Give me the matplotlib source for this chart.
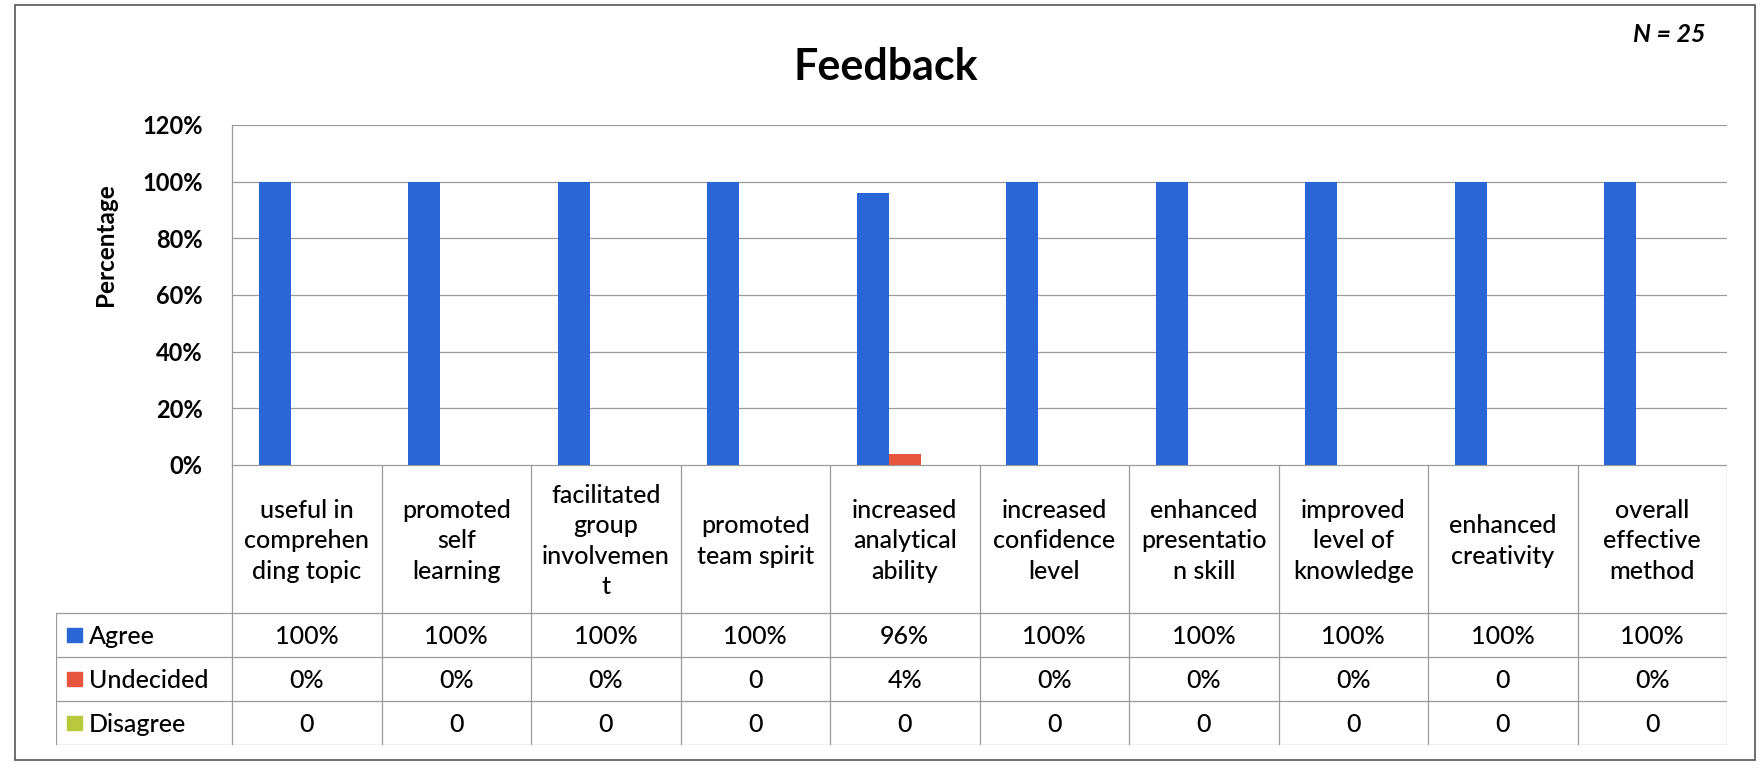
import matplotlib.pyplot as plt
import numpy as np
from matplotlib.patches import Rectangle

plt.rcParams['font.family'] = ['Lato', 'DejaVu Sans']

# survey results (fraction of respondents)
categories = [
    'useful in\ncomprehen\nding topic',
    'promoted\nself\nlearning',
    'facilitated\ngroup\ninvolvemen\nt',
    'promoted\nteam spirit',
    'increased\nanalytical\nability',
    'increased\nconfidence\nlevel',
    'enhanced\npresentatio\nn skill',
    'improved\nlevel of\nknowledge',
    'enhanced\ncreativity',
    'overall\neffective\nmethod',
]
series_names = ['Agree', 'Undecided', 'Disagree']
agree = [1.00, 1.00, 1.00, 1.00, 0.96, 1.00, 1.00, 1.00, 1.00, 1.00]
undecided = [0.00, 0.00, 0.00, 0.00, 0.04, 0.00, 0.00, 0.00, 0.00, 0.00]
disagree = [0, 0, 0, 0, 0, 0, 0, 0, 0, 0]

# cell texts as they appear in the data table
agree_txt = ['100%', '100%', '100%', '100%', '96%', '100%', '100%', '100%', '100%', '100%']
undecided_txt = ['0%', '0%', '0%', '0', '4%', '0%', '0%', '0%', '0', '0%']
disagree_txt = ['0', '0', '0', '0', '0', '0', '0', '0', '0', '0']

yticks = [0, 0.2, 0.4, 0.6, 0.8, 1.0, 1.2]
ytick_labels = ['0%', '20%', '40%', '60%', '80%', '100%', '120%']

colors = ['#2a66d6', '#e8553f', '#b9c93c']
grid_col = '#9a9a9a'

W, H = 1760, 768
fig = plt.figure(figsize=(W / 100, H / 100), dpi=100)
fig.set_facecolor('white')

# outer chart frame
fig.patches.append(Rectangle((15 / W, 8 / H), 1740 / W, 755 / H, transform=fig.transFigure,
                             fill=False, lw=1.2, ec='#555555'))

plot_l, plot_r = 232 / W, 1727 / W
zero_y = 1 - 465 / H
top_y = 1 - 125 / H
ax = fig.add_axes([plot_l, zero_y, plot_r - plot_l, top_y - zero_y])

x = np.arange(len(categories))
bw = 0.215
values = [agree, undecided, disagree]
for i, (vals, col) in enumerate(zip(values, colors)):
    ax.bar(x + (i - 1) * bw, vals, width=bw, color=col, zorder=3)

ax.set_xlim(-0.5, len(categories) - 0.5)
ax.set_ylim(0, 1.2)
ax.set_yticks(yticks)
ax.set_yticklabels(ytick_labels, fontsize=17, fontweight='bold')
ax.tick_params(axis='y', length=0, pad=21)
ax.set_xticks([])
ax.yaxis.grid(True, color=grid_col, lw=0.9, zorder=0)
for s in ['top', 'right', 'bottom']:
    ax.spines[s].set_visible(False)
ax.spines['left'].set_color(grid_col)
ax.spines['left'].set_linewidth(0.9)

fig.text(105 / W, 1 - 245 / H, 'Percentage', rotation=90, ha='center', va='center',
         fontsize=17.5, fontweight='bold')
fig.text(886 / W, 1 - 67 / H, 'Feedback', ha='center', va='center', fontsize=31, fontweight='bold')
fig.text(1669 / W, 1 - 35 / H, 'N = 25', ha='center', va='center', fontsize=18,
         style='italic', fontweight='bold')

# data table under the plot
row_h = [148, 44, 44, 44]
edges = np.concatenate([[0], np.cumsum(row_h)])
tab_left = 56 / W
tab_bottom = 1 - (465 + edges[-1]) / H
cat_w = (plot_r - plot_l) / len(categories)
lg_w = (plot_l - tab_left) / cat_w  # legend column width in category units
x0 = -0.5 - lg_w
tax = fig.add_axes([tab_left, tab_bottom, plot_r - tab_left, zero_y - tab_bottom])
tax.set_xlim(x0, len(categories) - 0.5)
tax.set_ylim(edges[-1], 0)
tax.axis('off')

# horizontal rules
tax.plot([-0.5, len(categories) - 0.5], [0, 0], color=grid_col, lw=0.9)
for e in edges[1:]:
    tax.plot([x0, len(categories) - 0.5], [e, e], color=grid_col, lw=0.9)
# vertical rules
for c in range(len(categories) + 1):
    tax.plot([c - 0.5, c - 0.5], [0, edges[-1]], color=grid_col, lw=0.9)
tax.plot([x0, x0], [edges[1], edges[-1]], color=grid_col, lw=0.9)

for c, lab in enumerate(categories):
    tax.text(c, (edges[0] + edges[1]) / 2 + 2, lab, ha='center', va='center',
             fontsize=18, linespacing=1.4, fontweight='medium')

px = lg_w / (plot_l - tab_left) / W  # one pixel in table x units
row_txt = [agree_txt, undecided_txt, disagree_txt]
for r, (name, col, txts) in enumerate(zip(series_names, colors, row_txt)):
    yc = (edges[r + 1] + edges[r + 2]) / 2
    tax.add_patch(Rectangle((x0 + 11 * px, yc - 7), 15 * px, 14, color=col))
    tax.text(x0 + 33 * px, yc + 1, name, ha='left', va='center', fontsize=18, fontweight='medium')
    for c, t in enumerate(txts):
        tax.text(c, yc + 2, t, ha='center', va='center', fontsize=18, fontweight='medium')

fig.savefig('out.png', dpi=100)
